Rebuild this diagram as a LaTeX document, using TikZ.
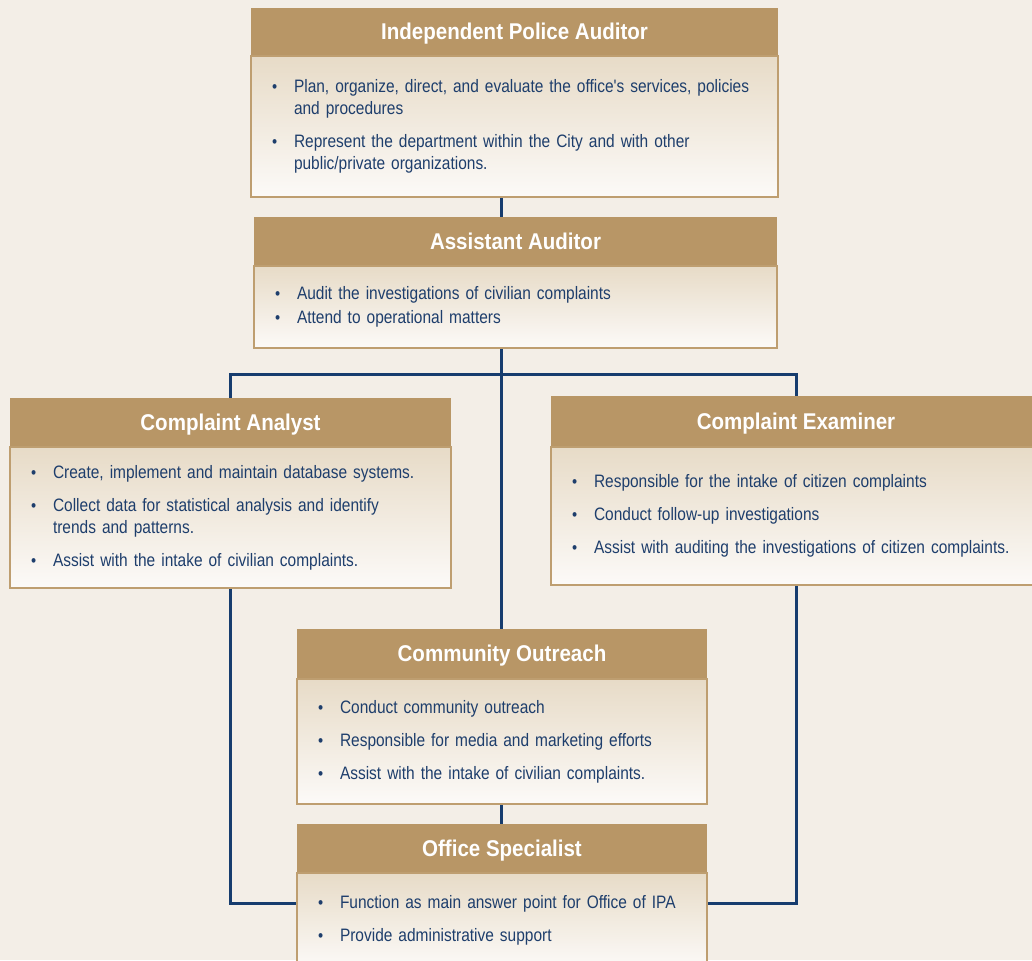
\documentclass[tikz,border=0pt]{standalone}
\usepackage{fontspec}
\usetikzlibrary{positioning}
\newfontfamily\orgfont{Liberation Sans}[FakeStretch=0.86]
\newfontfamily\headfont{Liberation Sans}[FakeStretch=0.9]
\definecolor{pagebg}{RGB}{243,238,231}
\definecolor{headtan}{RGB}{184,150,102}
\definecolor{edgetan}{RGB}{190,158,112}
\definecolor{bodytop}{RGB}{231,219,199}
\definecolor{bodybot}{RGB}{252,250,248}
\definecolor{inknavy}{RGB}{30,62,108}
\definecolor{linknavy}{RGB}{22,60,110}
\newcommand{\duty}[1]{\hangindent=22pt\hangafter=1\makebox[22pt][l]{\fontsize{17}{17}\selectfont\textbullet}#1\par}
\tikzset{
  head/.style={fill=headtan, text=white, inner sep=0pt, text height=20pt, text depth=4pt,
    font=\headfont\bfseries\fontsize{22.8}{26}\selectfont},
  duties/.style={draw=edgetan, line width=2pt, top color=bodytop, bottom color=bodybot,
    inner sep=0pt, text=inknavy, align=left, font=\orgfont\fontsize{18}{22}\selectfont,
    execute at begin node={\setlength{\parskip}{11pt}\hyphenpenalty=10000}},
  link/.style={draw=linknavy, line width=3pt},
}
\begin{document}
\begin{tikzpicture}[x=1pt, y=-1pt]
    \path[use as bounding box] (0,0) rectangle (1032,960);
    \clip (0,0) rectangle (1032,960);
    \fill[pagebg] (0,0) rectangle (1032,960);
    % Auditor and assistant
    \node[head, minimum width=527pt, minimum height=47pt] (ipa) at (514.5,31.5) {Independent Police Auditor};
    \node[duties, below=0pt of ipa, minimum width=527pt, minimum height=141pt, text width=485pt] (ipab)
        {\duty{Plan, organize, direct, and evaluate the office's services, policies\newline and procedures}%
         \duty{Represent the department within the City and with other\newline public/private organizations.}};
    \node[head, minimum width=523pt, minimum height=48pt] (aa) at (515.5,241) {Assistant Auditor};
    \node[duties, below=0pt of aa, minimum width=523pt, minimum height=82pt, text width=481pt,
        execute at begin node={\setlength{\parskip}{2pt}}] (aab)
        {\duty{Audit the investigations of civilian complaints}%
         \duty{Attend to operational matters}};
    % Analyst and examiner
    \node[head, minimum width=441pt, minimum height=48pt] (ca) at (230.5,422) {Complaint Analyst};
    \node[duties, below=0pt of ca, minimum width=441pt, minimum height=141pt, text width=399pt] (cab)
        {\duty{Create, implement and maintain database systems.}%
         \duty{Collect data for statistical analysis and identify\newline trends and patterns.}%
         \duty{Assist with the intake of civilian complaints.}};
    \node[head, minimum width=490pt, minimum height=50pt] (ce) at (796,421) {Complaint Examiner};
    \node[duties, below=0pt of ce, minimum width=490pt, minimum height=138pt, text width=448pt] (ceb)
        {\duty{Responsible for the intake of citizen complaints}%
         \duty{Conduct follow-up investigations}%
         \duty{Assist with auditing the investigations of citizen complaints.}};
    % Outreach and office
    \node[head, minimum width=410pt, minimum height=49pt] (co) at (502,653.5) {Community Outreach};
    \node[duties, below=0pt of co, minimum width=410pt, minimum height=125pt, text width=368pt] (cob)
        {\duty{Conduct community outreach}%
         \duty{Responsible for media and marketing efforts}%
         \duty{Assist with the intake of civilian complaints.}};
    \node[head, minimum width=410pt, minimum height=48pt] (os) at (502,848) {Office Specialist};
    \node[duties, below=0pt of os, minimum width=410pt, minimum height=95pt, text width=368pt] (osb)
        {\duty{Function as main answer point for Office of IPA}%
         \duty{Provide administrative support}};
    % Reporting lines
    \coordinate (spine) at (501,0);
    \coordinate (bar) at (0,374);
    \coordinate (hook) at (0,903);
    \draw[link] (ipab.south -| spine) -- (aa.north -| spine);
    \draw[link] (aab.south -| spine) -- (co.north -| spine);
    \draw[link] (cob.south -| spine) -- (os.north -| spine);
    \draw[link] (ca.north) |- (bar -| spine) -| (ce.north);
    \draw[link] (cab.south) |- (osb.west |- hook);
    \draw[link] (ceb.south) |- (osb.east |- hook);
\end{tikzpicture}
\end{document}
